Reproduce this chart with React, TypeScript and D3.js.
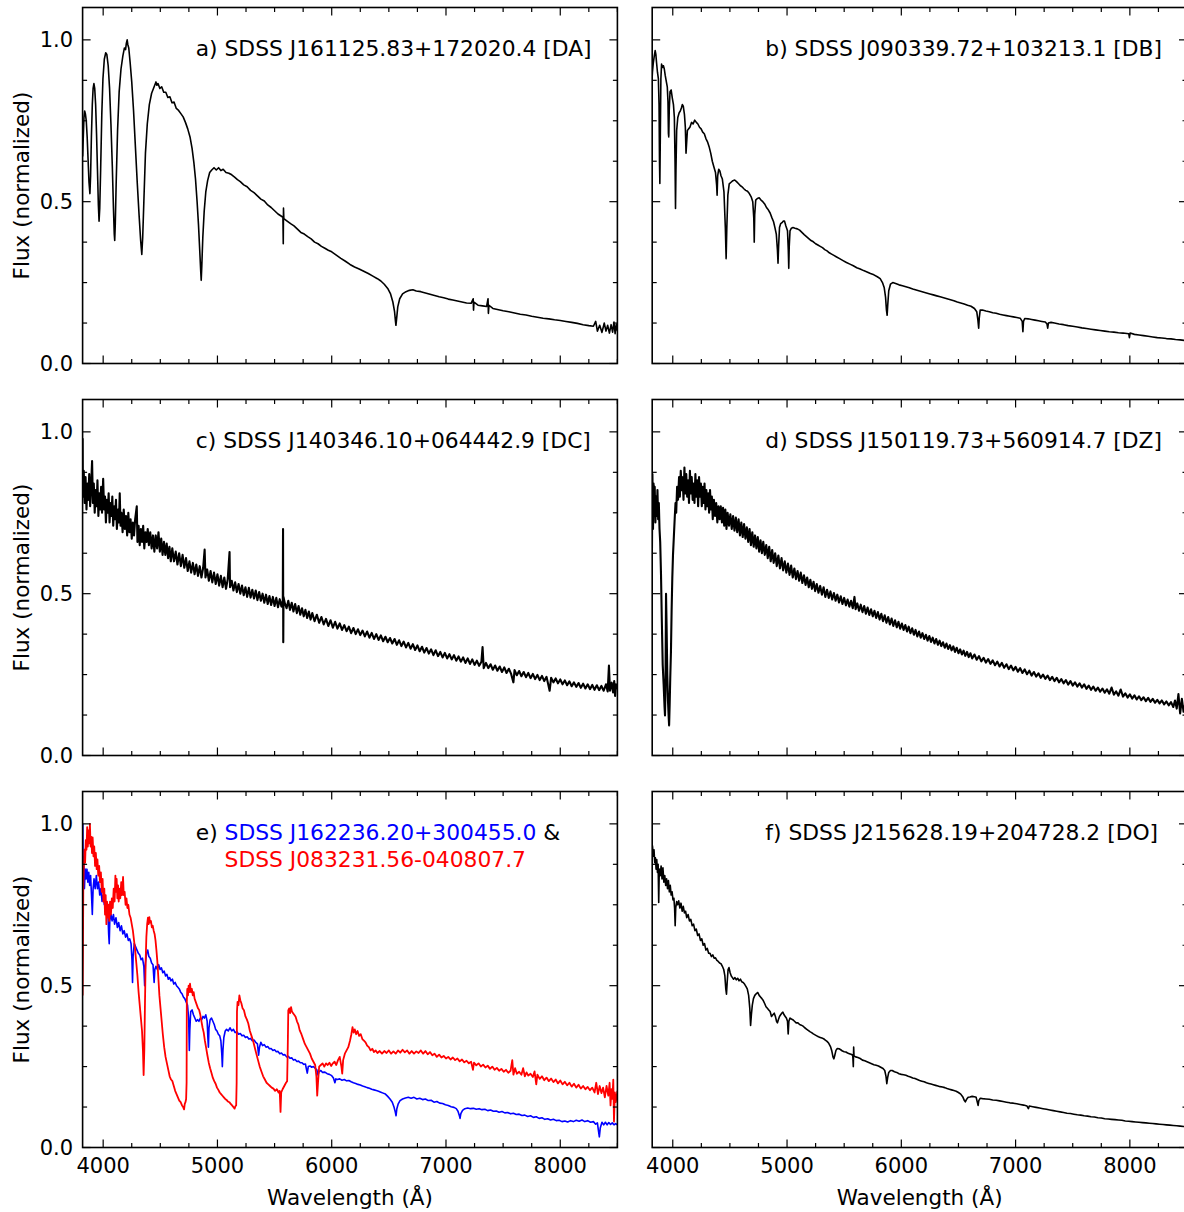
import * as d3 from "d3";
import { useEffect, useRef } from "react";

type Pt = [number, number];

// a) DA white dwarf
const specA: Pt[] = [
  [3820,0.64],[3826,0.70],[3832,0.76],[3838,0.78],[3845,0.77],[3852,0.75],[3860,0.70],[3868,0.63],[3876,0.56],[3884,0.525],[3890,0.58],[3897,0.70],[3905,0.80],[3912,0.85],[3919,0.865],[3926,0.85],[3934,0.80],[3942,0.71],[3950,0.60],[3958,0.49],[3964,0.44],[3970,0.48],[3978,0.60],[3988,0.77],[3998,0.88],[4010,0.94],[4022,0.96],[4032,0.955],[4044,0.92],[4056,0.85],[4068,0.74],[4080,0.61],[4090,0.48],[4097,0.40],[4101,0.38],[4106,0.43],[4114,0.56],[4126,0.72],[4140,0.84],[4156,0.91],[4172,0.95],[4186,0.975],[4196,0.97],[4203,0.99],[4210,1.0],[4216,0.985],[4224,0.975],[4236,0.93],[4250,0.87],[4266,0.78],[4282,0.67],[4298,0.56],[4314,0.46],[4328,0.38],[4338,0.337],[4346,0.39],[4356,0.50],[4370,0.65],[4386,0.74],[4404,0.80],[4424,0.835],[4446,0.855],[4462,0.87],[4470,0.86],[4480,0.865],[4496,0.85],[4512,0.855],[4530,0.838],[4548,0.838],[4566,0.822],[4584,0.824],[4602,0.806],[4620,0.808],[4640,0.788],[4660,0.782],[4680,0.772],[4700,0.762],[4720,0.745],[4740,0.725],[4760,0.70],[4778,0.665],[4794,0.62],[4808,0.57],[4822,0.50],[4834,0.43],[4845,0.35],[4853,0.29],[4858,0.257],[4863,0.30],[4872,0.39],[4884,0.47],[4898,0.53],[4914,0.565],[4932,0.59],[4950,0.598],[4970,0.605],[4990,0.598],[5010,0.605],[5030,0.596],[5050,0.60],[5075,0.59],[5100,0.588],[5125,0.583],[5150,0.576],[5175,0.568],[5200,0.562],[5230,0.552],[5260,0.546],[5290,0.535],[5320,0.528],[5350,0.518],[5380,0.508],[5410,0.502],[5440,0.49],[5470,0.482],[5500,0.472],[5530,0.462],[5560,0.455],[5573,0.452],[5576,0.37],[5578,0.48],[5581,0.448],[5610,0.44],[5640,0.432],[5670,0.425],[5700,0.415],[5730,0.405],[5760,0.40],[5790,0.392],[5820,0.385],[5850,0.375],[5880,0.37],[5910,0.362],[5940,0.356],[5970,0.35],[6000,0.345],[6040,0.335],[6080,0.325],[6120,0.316],[6160,0.306],[6200,0.298],[6240,0.292],[6280,0.285],[6320,0.278],[6360,0.27],[6400,0.262],[6430,0.255],[6460,0.245],[6490,0.232],[6515,0.215],[6535,0.19],[6550,0.16],[6558,0.13],[6562,0.118],[6567,0.135],[6578,0.175],[6595,0.20],[6620,0.215],[6650,0.222],[6680,0.226],[6710,0.228],[6740,0.224],[6780,0.222],[6820,0.218],[6860,0.214],[6900,0.21],[6940,0.206],[6980,0.203],[7020,0.199],[7060,0.196],[7100,0.193],[7140,0.19],[7180,0.187],[7220,0.186],[7238,0.20],[7241,0.165],[7245,0.19],[7280,0.18],[7320,0.178],[7355,0.176],[7368,0.20],[7371,0.155],[7376,0.18],[7410,0.17],[7450,0.167],[7500,0.163],[7550,0.16],[7600,0.156],[7650,0.152],[7700,0.15],[7750,0.146],[7800,0.143],[7850,0.14],[7900,0.138],[7950,0.135],[8000,0.133],[8050,0.13],[8100,0.127],[8150,0.124],[8200,0.12],[8250,0.117],[8290,0.115],[8310,0.13],[8325,0.10],[8345,0.118],[8365,0.096],[8385,0.125],[8400,0.10],[8415,0.118],[8430,0.094],[8445,0.12],[8458,0.097],[8470,0.128],[8480,0.092],[8490,0.122],[8500,0.10],
];

// b) DB white dwarf
const specB: Pt[] = [
  [3816,0.86],[3822,0.90],[3830,0.93],[3838,0.95],[3846,0.967],[3852,0.955],[3858,0.93],[3866,0.90],[3874,0.88],[3880,0.80],[3884,0.62],[3887,0.556],[3891,0.70],[3896,0.88],[3902,0.925],[3910,0.915],[3918,0.92],[3926,0.91],[3934,0.89],[3944,0.87],[3952,0.855],[3958,0.81],[3962,0.71],[3965,0.70],[3969,0.78],[3976,0.84],[3986,0.845],[3996,0.82],[4006,0.80],[4014,0.76],[4020,0.62],[4024,0.479],[4028,0.60],[4034,0.72],[4044,0.76],[4056,0.775],[4066,0.78],[4076,0.79],[4084,0.80],[4092,0.795],[4102,0.77],[4110,0.73],[4116,0.65],[4121,0.68],[4128,0.72],[4138,0.725],[4150,0.73],[4164,0.745],[4178,0.74],[4192,0.752],[4206,0.745],[4220,0.74],[4234,0.73],[4248,0.725],[4262,0.715],[4276,0.71],[4290,0.695],[4304,0.685],[4318,0.67],[4332,0.65],[4346,0.625],[4360,0.607],[4374,0.59],[4384,0.55],[4388,0.52],[4393,0.58],[4402,0.60],[4412,0.595],[4422,0.58],[4434,0.57],[4448,0.53],[4460,0.42],[4467,0.324],[4473,0.42],[4482,0.52],[4494,0.555],[4510,0.56],[4526,0.565],[4542,0.567],[4558,0.562],[4574,0.556],[4590,0.55],[4606,0.546],[4622,0.54],[4638,0.535],[4654,0.532],[4670,0.525],[4686,0.515],[4700,0.50],[4709,0.45],[4713,0.375],[4717,0.46],[4726,0.505],[4740,0.51],[4756,0.512],[4772,0.505],[4788,0.50],[4804,0.493],[4820,0.482],[4836,0.475],[4852,0.465],[4868,0.45],[4882,0.438],[4894,0.42],[4906,0.40],[4916,0.35],[4921,0.31],[4926,0.36],[4934,0.42],[4944,0.432],[4956,0.435],[4968,0.44],[4978,0.44],[4990,0.425],[5004,0.41],[5011,0.35],[5015,0.294],[5019,0.36],[5026,0.41],[5038,0.418],[5052,0.42],[5070,0.418],[5090,0.416],[5110,0.412],[5130,0.405],[5150,0.398],[5170,0.392],[5190,0.386],[5210,0.38],[5230,0.376],[5250,0.37],[5270,0.366],[5290,0.362],[5310,0.358],[5330,0.352],[5350,0.348],[5370,0.342],[5390,0.338],[5410,0.334],[5430,0.33],[5460,0.324],[5490,0.318],[5520,0.312],[5550,0.307],[5580,0.302],[5610,0.296],[5640,0.292],[5670,0.287],[5700,0.283],[5730,0.278],[5760,0.274],[5790,0.268],[5815,0.262],[5835,0.25],[5850,0.235],[5862,0.205],[5870,0.165],[5876,0.149],[5881,0.18],[5890,0.225],[5905,0.245],[5925,0.25],[5950,0.247],[5980,0.243],[6010,0.24],[6040,0.237],[6070,0.234],[6100,0.23],[6130,0.227],[6160,0.224],[6190,0.221],[6220,0.218],[6250,0.215],[6280,0.212],[6310,0.209],[6340,0.206],[6370,0.203],[6400,0.20],[6430,0.197],[6460,0.194],[6490,0.19],[6520,0.187],[6550,0.184],[6580,0.18],[6610,0.177],[6640,0.17],[6660,0.16],[6670,0.135],[6677,0.109],[6682,0.14],[6690,0.165],[6710,0.165],[6740,0.162],[6770,0.16],[6800,0.157],[6830,0.155],[6860,0.152],[6890,0.15],[6920,0.148],[6950,0.146],[6980,0.144],[7010,0.142],[7040,0.14],[7058,0.13],[7064,0.098],[7069,0.13],[7080,0.139],[7110,0.138],[7140,0.136],[7170,0.134],[7200,0.132],[7230,0.13],[7260,0.128],[7275,0.122],[7281,0.109],[7287,0.125],[7310,0.127],[7340,0.125],[7380,0.122],[7420,0.12],[7460,0.117],[7500,0.115],[7540,0.113],[7580,0.11],[7620,0.108],[7660,0.106],[7700,0.104],[7740,0.102],[7780,0.10],[7820,0.098],[7860,0.097],[7900,0.095],[7940,0.094],[7990,0.092],[7996,0.08],[8002,0.094],[8040,0.09],[8080,0.088],[8120,0.086],[8160,0.084],[8200,0.082],[8240,0.08],[8280,0.079],[8320,0.077],[8360,0.076],[8400,0.074],[8440,0.073],[8480,0.071],[8500,0.07],
];

// c) DC white dwarf
const specC: Pt[] = [
  [3820,0.98],[3822,0.80],[3830,0.88],[3838,0.78],[3846,0.86],[3854,0.76],[3862,0.84],[3870,0.79],[3878,0.87],[3886,0.77],[3894,0.83],[3903,0.91],[3910,0.78],[3918,0.84],[3926,0.75],[3934,0.82],[3942,0.77],[3950,0.85],[3958,0.74],[3966,0.81],[3974,0.76],[3982,0.83],[3990,0.75],[4000,0.855],[4008,0.76],[4016,0.80],[4024,0.72],[4032,0.79],[4040,0.75],[4048,0.81],[4056,0.72],[4064,0.78],[4072,0.74],[4080,0.80],[4088,0.71],[4096,0.77],[4104,0.73],[4112,0.79],[4120,0.70],[4130,0.76],[4138,0.72],[4145,0.81],[4152,0.71],[4160,0.75],[4170,0.69],[4180,0.76],[4190,0.70],[4200,0.74],[4210,0.68],[4220,0.75],[4230,0.69],[4240,0.73],[4250,0.67],[4260,0.72],[4270,0.68],[4280,0.73],[4294,0.77],[4300,0.66],[4310,0.71],[4320,0.65],[4330,0.70],[4340,0.66],[4350,0.71],[4360,0.64],[4370,0.69],[4380,0.66],[4390,0.70],[4400,0.65],[4412,0.69],[4424,0.64],[4436,0.68],[4448,0.63],[4460,0.68],[4472,0.64],[4484,0.69],[4496,0.63],[4508,0.67],[4520,0.62],[4532,0.66],[4544,0.62],[4556,0.655],[4568,0.61],[4580,0.645],[4592,0.60],[4605,0.64],[4620,0.60],[4635,0.63],[4650,0.59],[4665,0.625],[4680,0.585],[4695,0.62],[4710,0.58],[4725,0.61],[4740,0.57],[4755,0.60],[4770,0.565],[4785,0.595],[4800,0.56],[4815,0.59],[4830,0.555],[4845,0.585],[4860,0.55],[4875,0.58],[4888,0.636],[4895,0.55],[4910,0.575],[4925,0.54],[4940,0.57],[4955,0.535],[4970,0.565],[4985,0.53],[5000,0.56],[5015,0.525],[5030,0.555],[5045,0.52],[5060,0.55],[5075,0.515],[5090,0.545],[5106,0.629],[5110,0.52],[5125,0.54],[5140,0.51],[5155,0.535],[5170,0.505],[5185,0.53],[5200,0.50],[5215,0.525],[5230,0.495],[5245,0.52],[5260,0.49],[5275,0.518],[5290,0.488],[5305,0.512],[5320,0.485],[5335,0.51],[5350,0.48],[5365,0.505],[5380,0.478],[5395,0.50],[5410,0.472],[5425,0.497],[5440,0.468],[5455,0.493],[5470,0.465],[5485,0.49],[5500,0.462],[5515,0.487],[5530,0.458],[5545,0.483],[5560,0.46],[5572,0.48],[5574,0.70],[5576,0.35],[5578,0.49],[5590,0.47],[5605,0.455],[5620,0.478],[5635,0.45],[5650,0.472],[5665,0.445],[5680,0.468],[5695,0.44],[5710,0.462],[5725,0.435],[5740,0.455],[5755,0.43],[5770,0.45],[5785,0.425],[5800,0.445],[5815,0.42],[5830,0.44],[5850,0.415],[5870,0.435],[5890,0.41],[5910,0.428],[5930,0.405],[5950,0.422],[5970,0.40],[5990,0.418],[6010,0.395],[6030,0.413],[6050,0.392],[6070,0.408],[6090,0.388],[6110,0.403],[6130,0.384],[6150,0.398],[6170,0.378],[6190,0.394],[6210,0.375],[6230,0.39],[6250,0.372],[6270,0.386],[6290,0.368],[6310,0.383],[6330,0.364],[6350,0.379],[6370,0.36],[6390,0.375],[6410,0.357],[6430,0.371],[6450,0.353],[6470,0.367],[6490,0.35],[6510,0.363],[6530,0.346],[6550,0.36],[6570,0.342],[6590,0.356],[6610,0.338],[6630,0.352],[6650,0.334],[6670,0.348],[6690,0.33],[6710,0.344],[6730,0.326],[6750,0.34],[6770,0.322],[6790,0.336],[6810,0.318],[6830,0.332],[6850,0.315],[6870,0.328],[6890,0.31],[6910,0.325],[6930,0.307],[6950,0.32],[6970,0.303],[6990,0.317],[7010,0.30],[7030,0.313],[7050,0.297],[7070,0.31],[7090,0.293],[7110,0.306],[7130,0.29],[7150,0.303],[7170,0.286],[7190,0.30],[7210,0.283],[7230,0.297],[7250,0.28],[7270,0.293],[7290,0.277],[7310,0.29],[7320,0.335],[7330,0.27],[7350,0.286],[7370,0.27],[7390,0.282],[7410,0.265],[7430,0.278],[7450,0.262],[7470,0.275],[7490,0.258],[7510,0.272],[7530,0.255],[7550,0.268],[7570,0.252],[7590,0.226],[7600,0.264],[7620,0.248],[7640,0.261],[7660,0.245],[7680,0.258],[7700,0.242],[7720,0.255],[7740,0.239],[7760,0.252],[7780,0.236],[7800,0.249],[7820,0.233],[7840,0.246],[7860,0.23],[7880,0.243],[7907,0.20],[7920,0.24],[7940,0.226],[7960,0.238],[7980,0.223],[8000,0.235],[8020,0.22],[8040,0.232],[8060,0.217],[8080,0.229],[8100,0.214],[8120,0.226],[8140,0.212],[8160,0.224],[8180,0.209],[8200,0.222],[8220,0.207],[8240,0.22],[8260,0.205],[8280,0.218],[8300,0.203],[8320,0.217],[8340,0.202],[8360,0.215],[8380,0.20],[8400,0.22],[8415,0.198],[8426,0.278],[8435,0.20],[8450,0.225],[8462,0.195],[8472,0.23],[8480,0.184],[8488,0.22],[8500,0.205],
];

// d) DZ white dwarf
const specD: Pt[] = [
  [3818,0.63],[3822,0.87],[3827,0.70],[3832,0.84],[3837,0.74],[3842,0.83],[3848,0.72],[3854,0.80],[3860,0.74],[3866,0.82],[3872,0.73],[3878,0.78],[3884,0.70],[3890,0.66],[3897,0.56],[3904,0.42],[3912,0.28],[3920,0.22],[3928,0.15],[3932,0.124],[3936,0.20],[3941,0.50],[3946,0.40],[3952,0.25],[3958,0.17],[3964,0.12],[3968,0.093],[3973,0.16],[3978,0.24],[3984,0.32],[3990,0.45],[3996,0.55],[4002,0.62],[4010,0.68],[4018,0.74],[4024,0.78],[4030,0.75],[4038,0.83],[4046,0.79],[4055,0.86],[4062,0.80],[4070,0.88],[4078,0.82],[4086,0.86],[4094,0.79],[4102,0.89],[4110,0.81],[4118,0.87],[4126,0.80],[4134,0.85],[4142,0.78],[4150,0.88],[4158,0.81],[4166,0.86],[4174,0.79],[4182,0.84],[4190,0.78],[4198,0.87],[4206,0.80],[4214,0.85],[4222,0.77],[4230,0.86],[4238,0.80],[4246,0.84],[4254,0.77],[4262,0.83],[4270,0.78],[4278,0.84],[4286,0.76],[4294,0.82],[4302,0.77],[4310,0.81],[4318,0.75],[4326,0.82],[4334,0.76],[4342,0.80],[4350,0.73],[4360,0.79],[4370,0.74],[4380,0.78],[4390,0.72],[4400,0.77],[4410,0.73],[4420,0.77],[4430,0.72],[4440,0.765],[4450,0.71],[4460,0.76],[4470,0.70],[4480,0.75],[4492,0.71],[4504,0.745],[4516,0.70],[4528,0.74],[4540,0.695],[4552,0.735],[4564,0.69],[4576,0.73],[4588,0.68],[4600,0.72],[4612,0.675],[4624,0.715],[4636,0.67],[4648,0.705],[4660,0.66],[4672,0.70],[4684,0.65],[4696,0.69],[4708,0.645],[4720,0.68],[4732,0.64],[4744,0.675],[4756,0.63],[4768,0.665],[4780,0.625],[4792,0.66],[4805,0.62],[4818,0.65],[4831,0.61],[4844,0.645],[4857,0.60],[4870,0.635],[4883,0.595],[4896,0.625],[4910,0.585],[4924,0.618],[4938,0.578],[4952,0.61],[4966,0.572],[4980,0.60],[4994,0.565],[5008,0.593],[5022,0.558],[5036,0.587],[5050,0.55],[5064,0.578],[5078,0.545],[5092,0.57],[5106,0.54],[5120,0.565],[5134,0.533],[5148,0.557],[5162,0.527],[5176,0.55],[5190,0.52],[5204,0.543],[5218,0.515],[5232,0.537],[5246,0.508],[5260,0.53],[5275,0.503],[5290,0.524],[5305,0.497],[5320,0.52],[5335,0.49],[5350,0.512],[5365,0.487],[5380,0.507],[5395,0.482],[5410,0.502],[5425,0.478],[5440,0.497],[5455,0.473],[5470,0.492],[5485,0.468],[5500,0.487],[5515,0.464],[5530,0.482],[5545,0.46],[5560,0.478],[5575,0.455],[5590,0.49],[5600,0.452],[5615,0.47],[5630,0.447],[5645,0.466],[5660,0.443],[5675,0.462],[5690,0.438],[5705,0.457],[5720,0.434],[5735,0.452],[5750,0.43],[5765,0.447],[5780,0.425],[5795,0.443],[5810,0.42],[5825,0.438],[5840,0.415],[5855,0.433],[5870,0.41],[5885,0.428],[5900,0.405],[5915,0.423],[5930,0.40],[5945,0.418],[5960,0.396],[5975,0.413],[5990,0.392],[6005,0.408],[6020,0.388],[6035,0.403],[6050,0.383],[6065,0.398],[6080,0.378],[6095,0.393],[6110,0.373],[6125,0.388],[6140,0.368],[6155,0.383],[6170,0.364],[6185,0.378],[6200,0.36],[6215,0.373],[6230,0.355],[6245,0.369],[6260,0.351],[6275,0.364],[6290,0.346],[6305,0.36],[6320,0.342],[6335,0.355],[6350,0.338],[6365,0.35],[6380,0.333],[6395,0.346],[6410,0.329],[6425,0.341],[6440,0.325],[6455,0.337],[6470,0.32],[6485,0.333],[6500,0.316],[6515,0.328],[6530,0.312],[6545,0.324],[6560,0.308],[6575,0.32],[6590,0.304],[6605,0.316],[6620,0.30],[6640,0.312],[6660,0.296],[6680,0.307],[6700,0.291],[6720,0.302],[6740,0.287],[6760,0.298],[6780,0.283],[6800,0.294],[6820,0.279],[6840,0.29],[6860,0.275],[6880,0.286],[6900,0.271],[6920,0.282],[6940,0.267],[6960,0.278],[6980,0.263],[7000,0.274],[7020,0.259],[7040,0.27],[7060,0.255],[7080,0.266],[7100,0.251],[7120,0.262],[7140,0.247],[7160,0.258],[7180,0.244],[7200,0.254],[7220,0.24],[7240,0.25],[7260,0.237],[7280,0.247],[7300,0.233],[7320,0.243],[7340,0.23],[7360,0.24],[7380,0.226],[7400,0.236],[7420,0.223],[7440,0.233],[7460,0.219],[7480,0.23],[7500,0.216],[7520,0.226],[7540,0.213],[7560,0.223],[7580,0.21],[7600,0.22],[7620,0.206],[7640,0.216],[7660,0.203],[7680,0.213],[7700,0.20],[7720,0.21],[7740,0.197],[7760,0.207],[7780,0.194],[7800,0.204],[7820,0.191],[7840,0.21],[7860,0.188],[7880,0.198],[7900,0.185],[7920,0.204],[7940,0.182],[7960,0.192],[7980,0.179],[8000,0.189],[8020,0.176],[8040,0.186],[8060,0.173],[8080,0.183],[8100,0.171],[8120,0.18],[8140,0.168],[8160,0.178],[8180,0.166],[8200,0.175],[8220,0.163],[8240,0.172],[8260,0.161],[8280,0.17],[8300,0.158],[8320,0.167],[8340,0.155],[8360,0.165],[8380,0.15],[8395,0.17],[8410,0.145],[8425,0.19],[8440,0.13],[8455,0.175],[8470,0.135],[8485,0.16],[8500,0.14],
];

// e) blue spectrum
const specEBlue: Pt[] = [
  [3822,1.0],[3825,0.82],[3830,0.90],[3836,0.80],[3842,0.86],[3850,0.83],[3858,0.86],[3866,0.82],[3874,0.85],[3882,0.81],[3890,0.84],[3898,0.78],[3905,0.72],[3912,0.80],[3920,0.83],[3930,0.80],[3940,0.84],[3950,0.80],[3960,0.82],[3970,0.78],[3980,0.80],[3990,0.76],[4000,0.78],[4010,0.75],[4020,0.76],[4030,0.73],[4040,0.74],[4048,0.66],[4053,0.63],[4058,0.70],[4068,0.72],[4078,0.70],[4090,0.72],[4100,0.69],[4112,0.71],[4124,0.68],[4136,0.695],[4148,0.67],[4160,0.685],[4172,0.66],[4184,0.67],[4196,0.65],[4208,0.66],[4220,0.64],[4232,0.645],[4244,0.63],[4252,0.58],[4257,0.51],[4262,0.59],[4272,0.63],[4284,0.62],[4296,0.61],[4308,0.60],[4320,0.595],[4332,0.58],[4344,0.585],[4356,0.56],[4363,0.50],[4370,0.57],[4380,0.60],[4390,0.61],[4400,0.59],[4412,0.585],[4424,0.57],[4436,0.565],[4446,0.51],[4452,0.55],[4462,0.56],[4474,0.55],[4486,0.565],[4498,0.55],[4510,0.555],[4522,0.54],[4534,0.545],[4546,0.53],[4558,0.535],[4570,0.52],[4582,0.525],[4594,0.515],[4606,0.52],[4618,0.505],[4630,0.51],[4642,0.50],[4654,0.495],[4666,0.49],[4678,0.48],[4690,0.475],[4702,0.465],[4714,0.46],[4726,0.45],[4738,0.44],[4748,0.40],[4754,0.30],[4758,0.36],[4766,0.42],[4778,0.425],[4790,0.41],[4802,0.40],[4814,0.39],[4826,0.395],[4838,0.39],[4850,0.40],[4862,0.395],[4874,0.405],[4886,0.40],[4898,0.41],[4910,0.39],[4916,0.34],[4921,0.31],[4926,0.37],[4936,0.395],[4948,0.40],[4960,0.39],[4972,0.38],[4984,0.365],[4996,0.36],[5008,0.35],[5020,0.345],[5030,0.33],[5038,0.29],[5043,0.25],[5048,0.30],[5056,0.34],[5068,0.36],[5080,0.365],[5095,0.36],[5110,0.37],[5125,0.36],[5140,0.365],[5155,0.355],[5170,0.358],[5185,0.35],[5200,0.352],[5215,0.345],[5230,0.347],[5245,0.34],[5260,0.342],[5275,0.335],[5290,0.337],[5305,0.33],[5320,0.332],[5335,0.325],[5350,0.32],[5360,0.285],[5368,0.31],[5380,0.325],[5395,0.315],[5410,0.318],[5425,0.31],[5440,0.312],[5455,0.305],[5470,0.306],[5485,0.30],[5500,0.302],[5515,0.296],[5530,0.297],[5545,0.29],[5560,0.292],[5575,0.286],[5590,0.287],[5605,0.28],[5620,0.282],[5635,0.276],[5650,0.277],[5665,0.27],[5680,0.272],[5695,0.266],[5710,0.267],[5725,0.262],[5740,0.262],[5755,0.257],[5770,0.258],[5780,0.24],[5786,0.23],[5795,0.25],[5810,0.252],[5825,0.248],[5840,0.25],[5855,0.245],[5870,0.24],[5880,0.224],[5890,0.235],[5905,0.238],[5920,0.232],[5940,0.233],[5960,0.228],[5980,0.226],[6000,0.222],[6015,0.215],[6028,0.20],[6036,0.212],[6050,0.21],[6070,0.212],[6090,0.208],[6110,0.21],[6130,0.206],[6150,0.207],[6170,0.203],[6190,0.20],[6210,0.198],[6230,0.195],[6250,0.193],[6270,0.19],[6290,0.188],[6310,0.185],[6330,0.183],[6350,0.18],[6370,0.178],[6390,0.176],[6410,0.174],[6430,0.171],[6450,0.168],[6470,0.165],[6490,0.158],[6510,0.15],[6530,0.14],[6545,0.125],[6556,0.11],[6563,0.098],[6570,0.12],[6582,0.135],[6598,0.145],[6620,0.15],[6645,0.153],[6670,0.155],[6695,0.152],[6720,0.155],[6745,0.15],[6770,0.152],[6795,0.148],[6820,0.15],[6845,0.145],[6870,0.146],[6895,0.14],[6920,0.142],[6945,0.137],[6970,0.136],[6995,0.132],[7020,0.13],[7045,0.126],[7070,0.124],[7090,0.12],[7105,0.112],[7116,0.10],[7123,0.09],[7130,0.105],[7145,0.115],[7165,0.12],[7190,0.122],[7215,0.12],[7240,0.121],[7265,0.118],[7290,0.12],[7315,0.117],[7340,0.118],[7365,0.114],[7390,0.116],[7415,0.112],[7440,0.113],[7465,0.109],[7490,0.111],[7515,0.107],[7540,0.108],[7565,0.104],[7590,0.106],[7615,0.102],[7640,0.103],[7665,0.099],[7690,0.10],[7715,0.096],[7740,0.098],[7765,0.093],[7790,0.095],[7815,0.09],[7840,0.092],[7865,0.087],[7890,0.089],[7915,0.085],[7940,0.087],[7965,0.083],[7990,0.084],[8015,0.08],[8040,0.082],[8065,0.079],[8090,0.083],[8115,0.08],[8140,0.084],[8165,0.081],[8190,0.085],[8215,0.08],[8240,0.083],[8265,0.078],[8290,0.08],[8310,0.072],[8325,0.076],[8335,0.05],[8342,0.033],[8350,0.06],[8365,0.078],[8380,0.07],[8395,0.078],[8410,0.07],[8425,0.077],[8440,0.071],[8455,0.076],[8470,0.07],[8485,0.074],[8500,0.07],
];

// e) red spectrum
const specERed: Pt[] = [
  [3820,0.47],[3823,0.60],[3826,0.80],[3830,0.86],[3836,0.92],[3842,0.88],[3848,0.95],[3854,0.92],[3860,0.99],[3866,0.93],[3872,0.98],[3878,0.94],[3884,1.0],[3890,0.93],[3896,0.96],[3902,0.91],[3908,0.958],[3915,0.90],[3922,0.93],[3929,0.87],[3936,0.91],[3943,0.86],[3950,0.89],[3957,0.84],[3965,0.87],[3972,0.82],[3980,0.85],[3988,0.79],[3995,0.83],[4002,0.76],[4010,0.80],[4016,0.72],[4022,0.78],[4028,0.69],[4034,0.76],[4040,0.71],[4046,0.75],[4053,0.70],[4060,0.76],[4068,0.72],[4076,0.77],[4084,0.74],[4092,0.80],[4100,0.76],[4107,0.84],[4112,0.79],[4118,0.83],[4124,0.77],[4130,0.81],[4136,0.76],[4142,0.80],[4150,0.77],[4158,0.82],[4166,0.78],[4174,0.836],[4180,0.78],[4188,0.79],[4196,0.75],[4204,0.77],[4212,0.74],[4220,0.75],[4230,0.72],[4240,0.71],[4250,0.69],[4260,0.67],[4270,0.64],[4280,0.61],[4290,0.57],[4300,0.53],[4310,0.48],[4320,0.44],[4330,0.40],[4340,0.36],[4348,0.30],[4354,0.224],[4360,0.30],[4366,0.45],[4372,0.58],[4378,0.65],[4385,0.69],[4392,0.71],[4398,0.69],[4404,0.712],[4410,0.695],[4418,0.70],[4426,0.68],[4434,0.685],[4442,0.67],[4450,0.66],[4458,0.64],[4466,0.61],[4474,0.575],[4482,0.53],[4492,0.47],[4502,0.43],[4512,0.39],[4522,0.35],[4534,0.31],[4546,0.28],[4558,0.26],[4570,0.24],[4582,0.22],[4594,0.21],[4606,0.205],[4618,0.19],[4630,0.175],[4642,0.165],[4654,0.155],[4666,0.145],[4678,0.14],[4690,0.13],[4700,0.125],[4708,0.118],[4714,0.135],[4720,0.14],[4726,0.15],[4730,0.20],[4732,0.45],[4736,0.49],[4742,0.47],[4748,0.50],[4754,0.48],[4760,0.506],[4768,0.48],[4776,0.49],[4784,0.47],[4792,0.48],[4800,0.46],[4810,0.45],[4820,0.44],[4830,0.43],[4840,0.425],[4850,0.41],[4860,0.39],[4870,0.37],[4880,0.355],[4890,0.33],[4900,0.31],[4912,0.285],[4924,0.262],[4936,0.245],[4948,0.23],[4960,0.215],[4972,0.205],[4984,0.197],[4996,0.185],[5008,0.178],[5020,0.17],[5032,0.165],[5044,0.16],[5056,0.155],[5068,0.15],[5080,0.147],[5092,0.142],[5104,0.14],[5116,0.135],[5128,0.13],[5140,0.125],[5150,0.12],[5158,0.128],[5164,0.13],[5168,0.20],[5171,0.42],[5176,0.45],[5184,0.44],[5192,0.47],[5200,0.455],[5210,0.445],[5220,0.43],[5232,0.424],[5245,0.405],[5258,0.395],[5270,0.383],[5284,0.36],[5298,0.345],[5312,0.33],[5326,0.31],[5340,0.29],[5355,0.27],[5370,0.25],[5385,0.235],[5400,0.22],[5415,0.21],[5430,0.20],[5445,0.195],[5460,0.19],[5475,0.185],[5490,0.182],[5505,0.175],[5520,0.18],[5535,0.17],[5545,0.175],[5552,0.11],[5558,0.17],[5570,0.18],[5585,0.19],[5600,0.20],[5610,0.205],[5615,0.30],[5620,0.424],[5628,0.43],[5636,0.415],[5644,0.434],[5652,0.42],[5662,0.415],[5672,0.41],[5684,0.404],[5696,0.39],[5708,0.38],[5720,0.362],[5735,0.35],[5750,0.335],[5765,0.32],[5780,0.31],[5795,0.30],[5810,0.29],[5825,0.275],[5840,0.265],[5855,0.255],[5866,0.22],[5873,0.16],[5880,0.20],[5890,0.25],[5905,0.255],[5920,0.26],[5935,0.25],[5950,0.26],[5965,0.255],[5980,0.262],[5995,0.252],[6010,0.26],[6025,0.265],[6040,0.255],[6055,0.27],[6070,0.28],[6085,0.25],[6092,0.228],[6100,0.27],[6115,0.29],[6130,0.30],[6145,0.31],[6160,0.33],[6172,0.35],[6182,0.372],[6192,0.355],[6202,0.365],[6214,0.35],[6226,0.36],[6240,0.345],[6254,0.35],[6268,0.335],[6282,0.33],[6296,0.325],[6310,0.315],[6325,0.31],[6340,0.30],[6355,0.305],[6370,0.295],[6385,0.30],[6400,0.292],[6420,0.298],[6440,0.29],[6460,0.298],[6480,0.292],[6500,0.30],[6520,0.29],[6540,0.297],[6560,0.29],[6580,0.30],[6600,0.293],[6620,0.302],[6640,0.294],[6660,0.30],[6680,0.29],[6700,0.298],[6720,0.29],[6740,0.297],[6760,0.292],[6780,0.30],[6800,0.29],[6820,0.298],[6840,0.288],[6860,0.295],[6880,0.285],[6900,0.29],[6920,0.28],[6940,0.287],[6960,0.278],[6980,0.283],[7000,0.275],[7020,0.28],[7040,0.272],[7060,0.278],[7080,0.27],[7100,0.275],[7120,0.266],[7140,0.272],[7160,0.263],[7180,0.268],[7200,0.26],[7220,0.265],[7236,0.24],[7245,0.262],[7265,0.254],[7285,0.26],[7305,0.25],[7325,0.256],[7345,0.247],[7365,0.253],[7385,0.243],[7405,0.25],[7425,0.24],[7445,0.246],[7465,0.237],[7485,0.243],[7505,0.234],[7525,0.24],[7545,0.231],[7565,0.237],[7580,0.27],[7590,0.225],[7605,0.245],[7620,0.228],[7640,0.234],[7660,0.225],[7675,0.245],[7690,0.22],[7705,0.232],[7720,0.222],[7740,0.228],[7760,0.218],[7775,0.235],[7790,0.195],[7800,0.225],[7820,0.212],[7840,0.22],[7860,0.208],[7880,0.216],[7900,0.205],[7920,0.213],[7940,0.202],[7960,0.21],[7980,0.198],[8000,0.207],[8020,0.195],[8040,0.203],[8060,0.192],[8080,0.20],[8100,0.188],[8120,0.197],[8140,0.185],[8160,0.194],[8180,0.182],[8200,0.19],[8220,0.18],[8240,0.187],[8260,0.177],[8280,0.185],[8300,0.17],[8315,0.20],[8330,0.165],[8345,0.19],[8360,0.168],[8375,0.185],[8390,0.155],[8405,0.19],[8420,0.16],[8432,0.20],[8440,0.13],[8448,0.18],[8456,0.15],[8464,0.21],[8470,0.08],[8478,0.17],[8486,0.14],[8500,0.175],
];

// f) DO white dwarf
const specF: Pt[] = [
  [3818,0.94],[3823,0.93],[3830,0.90],[3836,0.92],[3842,0.88],[3848,0.895],[3854,0.86],[3860,0.89],[3866,0.85],[3872,0.875],[3877,0.757],[3882,0.86],[3890,0.84],[3898,0.87],[3906,0.83],[3914,0.864],[3922,0.82],[3930,0.84],[3938,0.81],[3946,0.83],[3954,0.80],[3962,0.825],[3970,0.79],[3978,0.81],[3986,0.78],[3994,0.79],[4002,0.765],[4010,0.77],[4016,0.74],[4021,0.685],[4026,0.74],[4034,0.76],[4042,0.75],[4052,0.762],[4062,0.74],[4072,0.755],[4082,0.73],[4092,0.745],[4102,0.725],[4112,0.73],[4122,0.71],[4134,0.72],[4146,0.70],[4158,0.705],[4170,0.685],[4182,0.69],[4194,0.67],[4206,0.675],[4218,0.655],[4230,0.66],[4242,0.64],[4254,0.645],[4266,0.625],[4278,0.63],[4290,0.61],[4302,0.615],[4314,0.60],[4326,0.60],[4338,0.59],[4350,0.595],[4362,0.585],[4374,0.586],[4386,0.578],[4398,0.575],[4410,0.57],[4422,0.568],[4434,0.56],[4446,0.55],[4456,0.53],[4464,0.49],[4470,0.474],[4476,0.51],[4484,0.55],[4492,0.556],[4502,0.54],[4512,0.53],[4522,0.525],[4532,0.52],[4544,0.525],[4556,0.518],[4568,0.523],[4580,0.515],[4592,0.52],[4604,0.512],[4616,0.51],[4628,0.505],[4640,0.498],[4652,0.49],[4664,0.47],[4674,0.43],[4681,0.377],[4688,0.41],[4696,0.44],[4706,0.46],[4718,0.47],[4730,0.475],[4744,0.479],[4756,0.47],[4768,0.465],[4780,0.46],[4792,0.454],[4804,0.445],[4816,0.435],[4828,0.43],[4840,0.425],[4852,0.42],[4864,0.405],[4876,0.41],[4888,0.415],[4898,0.405],[4908,0.39],[4916,0.385],[4924,0.395],[4934,0.405],[4944,0.41],[4954,0.415],[4964,0.418],[4974,0.41],[4984,0.405],[4994,0.40],[5004,0.39],[5010,0.351],[5016,0.39],[5026,0.40],[5038,0.397],[5050,0.395],[5065,0.39],[5080,0.385],[5095,0.385],[5110,0.38],[5125,0.378],[5140,0.375],[5155,0.37],[5170,0.366],[5185,0.362],[5200,0.358],[5215,0.355],[5230,0.351],[5245,0.348],[5260,0.345],[5275,0.342],[5290,0.34],[5305,0.338],[5320,0.336],[5335,0.332],[5350,0.328],[5365,0.322],[5380,0.312],[5392,0.298],[5402,0.28],[5410,0.274],[5418,0.285],[5428,0.30],[5440,0.306],[5455,0.305],[5470,0.302],[5485,0.298],[5500,0.296],[5515,0.295],[5530,0.292],[5545,0.29],[5560,0.288],[5575,0.285],[5580,0.25],[5583,0.31],[5586,0.283],[5600,0.28],[5620,0.278],[5640,0.275],[5660,0.27],[5680,0.268],[5700,0.265],[5720,0.262],[5740,0.259],[5760,0.256],[5780,0.254],[5800,0.252],[5820,0.248],[5840,0.244],[5855,0.238],[5866,0.22],[5873,0.197],[5880,0.215],[5890,0.232],[5905,0.238],[5920,0.238],[5940,0.234],[5960,0.232],[5980,0.228],[6000,0.226],[6020,0.225],[6040,0.223],[6060,0.22],[6080,0.218],[6100,0.215],[6120,0.213],[6140,0.21],[6160,0.207],[6180,0.205],[6200,0.203],[6220,0.20],[6240,0.198],[6260,0.196],[6280,0.194],[6300,0.192],[6320,0.19],[6340,0.188],[6360,0.187],[6380,0.185],[6400,0.182],[6420,0.18],[6440,0.178],[6460,0.176],[6480,0.174],[6500,0.17],[6520,0.165],[6540,0.155],[6552,0.145],[6560,0.141],[6570,0.148],[6585,0.155],[6600,0.156],[6620,0.158],[6640,0.157],[6655,0.155],[6665,0.14],[6672,0.13],[6678,0.145],[6690,0.152],[6710,0.151],[6740,0.15],[6770,0.149],[6800,0.147],[6830,0.146],[6860,0.144],[6890,0.142],[6920,0.14],[6950,0.138],[6980,0.137],[7010,0.135],[7040,0.133],[7070,0.131],[7100,0.128],[7112,0.12],[7120,0.128],[7150,0.126],[7180,0.124],[7210,0.122],[7240,0.12],[7270,0.118],[7300,0.116],[7330,0.114],[7360,0.112],[7390,0.11],[7420,0.108],[7450,0.106],[7480,0.105],[7510,0.103],[7540,0.101],[7570,0.10],[7600,0.098],[7630,0.097],[7660,0.095],[7690,0.094],[7720,0.092],[7750,0.091],[7780,0.089],[7810,0.088],[7840,0.087],[7870,0.086],[7900,0.085],[7930,0.084],[7960,0.082],[7990,0.081],[8020,0.08],[8050,0.079],[8080,0.078],[8110,0.077],[8140,0.076],[8170,0.075],[8200,0.074],[8230,0.073],[8260,0.072],[8290,0.071],[8320,0.07],[8350,0.069],[8380,0.068],[8410,0.067],[8440,0.066],[8470,0.065],[8500,0.064],
];

const xMajor = [4000, 5000, 6000, 7000, 8000];
const yMajor = [0, 0.5, 1.0];
const yTickLabels = ["0.0", "0.5", "1.0"];

const titles: Record<string, [string, string][]> = {
  a: [["a) SDSS J161125.83+172020.4 [DA]", "#000"]],
  b: [["b) SDSS J090339.72+103213.1 [DB]", "#000"]],
  c: [["c) SDSS J140346.10+064442.9 [DC]", "#000"]],
  d: [["d) SDSS J150119.73+560914.7 [DZ]", "#000"]],
  e: [["e) ", "#000"], ["SDSS J162236.20+300455.0", "#0000ff"], [" &", "#000"]],
  f: [["f) SDSS J215628.19+204728.2 [DO]", "#000"]],
};
const titleE2 = "SDSS J083231.56-040807.7";

// noisy spectra get a heavier stroke so the noise reads as a band
const panels = [
  { id: "a", col: 0, row: 0, lines: [{ data: specA, color: "#000", sw: 1.6 }] },
  { id: "b", col: 1, row: 0, lines: [{ data: specB, color: "#000", sw: 1.6 }] },
  { id: "c", col: 0, row: 1, lines: [{ data: specC, color: "#000", sw: 2.1 }] },
  { id: "d", col: 1, row: 1, lines: [{ data: specD, color: "#000", sw: 2.1 }] },
  {
    id: "e", col: 0, row: 2,
    lines: [
      { data: specEBlue, color: "#0000ff", sw: 1.6 },
      { data: specERed, color: "#ff0000", sw: 1.8 },
    ],
  },
  { id: "f", col: 1, row: 2, lines: [{ data: specF, color: "#000", sw: 1.6 }] },
];

const W = 1184;
const H = 1212;
const colX = [82.6, 652.2];
const rowY = [7.5, 399.5, 791.5];
const PW = 534.8;
const PH = 356;
const FONT = "DejaVu Sans, sans-serif";

const App = () => {
  const ref = useRef<SVGSVGElement>(null);

  useEffect(() => {
    const svg = d3.select(ref.current);
    svg.selectAll("*").remove();

    panels.forEach((p) => {
      const x0 = colX[p.col];
      const y0 = rowY[p.row];
      const x = d3.scaleLinear().domain([3820, 8500]).range([x0, x0 + PW]);
      const y = d3.scaleLinear().domain([0, 1.1]).range([y0 + PH, y0]);

      const g = svg.append("g");
      const clipId = `clip-${p.id}`;
      g.append("clipPath")
        .attr("id", clipId)
        .append("rect")
        .attr("x", x0)
        .attr("y", y0)
        .attr("width", PW)
        .attr("height", PH);

      const line = d3
        .line<Pt>()
        .x((d) => x(d[0]))
        .y((d) => y(d[1]));

      const lg = g.append("g").attr("clip-path", `url(#${clipId})`);
      p.lines.forEach((s) => {
        lg.append("path")
          .datum(s.data)
          .attr("d", line)
          .attr("fill", "none")
          .attr("stroke", s.color)
          .attr("stroke-width", s.sw)
          .attr("stroke-linejoin", "round");
      });

      // ticks, pointing inward on all four sides
      const minorX = d3.range(4000, 8501, 250).filter((v) => v % 1000 !== 0);
      const minorY = d3.range(0.125, 1.1, 0.125).filter((v) => Math.abs(v * 2 - Math.round(v * 2)) > 1e-6);
      const tk = g.append("g").attr("stroke", "#000").attr("stroke-width", 1.2);
      const xTicks = [
        ...xMajor.map((v) => ({ v, len: 8 })),
        ...minorX.map((v) => ({ v, len: 4.5 })),
      ];
      const yTicks = [
        ...yMajor.map((v) => ({ v, len: 8 })),
        ...minorY.map((v) => ({ v, len: 4.5 })),
      ];
      xTicks.forEach((t) => {
        tk.append("line").attr("x1", x(t.v)).attr("x2", x(t.v)).attr("y1", y0 + PH).attr("y2", y0 + PH - t.len);
        tk.append("line").attr("x1", x(t.v)).attr("x2", x(t.v)).attr("y1", y0).attr("y2", y0 + t.len);
      });
      yTicks.forEach((t) => {
        tk.append("line").attr("x1", x0).attr("x2", x0 + t.len).attr("y1", y(t.v)).attr("y2", y(t.v));
        tk.append("line").attr("x1", x0 + PW).attr("x2", x0 + PW - t.len).attr("y1", y(t.v)).attr("y2", y(t.v));
      });

      g.append("rect")
        .attr("x", x0)
        .attr("y", y0)
        .attr("width", PW)
        .attr("height", PH)
        .attr("fill", "none")
        .attr("stroke", "#000")
        .attr("stroke-width", 1.6);

      // y tick labels + axis label on left column
      if (p.col === 0) {
        g.selectAll(".ylab")
          .data(yMajor)
          .join("text")
          .attr("x", x0 - 9.5)
          .attr("y", (d) => y(d))
          .attr("dy", "0.36em")
          .attr("text-anchor", "end")
          .attr("font-family", FONT)
          .attr("font-size", 21)
          .text((d, i) => yTickLabels[i]);
        g.append("text")
          .attr("transform", `translate(28.5,${y0 + PH / 2}) rotate(-90)`)
          .attr("text-anchor", "middle")
          .attr("font-family", FONT)
          .attr("font-size", 21.5)
          .text("Flux (normalized)");
      }

      // x tick labels + axis label on bottom row
      if (p.row === 2) {
        g.selectAll(".xlab")
          .data(xMajor)
          .join("text")
          .attr("x", (d) => x(d))
          .attr("y", y0 + PH + 25)
          .attr("text-anchor", "middle")
          .attr("font-family", FONT)
          .attr("font-size", 21)
          .text((d) => String(d));
        g.append("text")
          .attr("x", x0 + PW / 2)
          .attr("y", 1205)
          .attr("text-anchor", "middle")
          .attr("font-family", FONT)
          .attr("font-size", 21.5)
          .text("Wavelength (Å)");
      }

      // panel title
      const t = g.append("text")
        .attr("x", x(4810))
        .attr("y", y(0.95))
        .attr("font-family", FONT)
        .attr("font-size", 21.8)
        .style("white-space", "pre");
      titles[p.id].forEach(([txt, col]) => {
        t.append("tspan").attr("fill", col).text(txt);
      });
      if (p.id === "e") {
        const first = t.select("tspan").node() as SVGTSpanElement;
        const off = first ? first.getComputedTextLength() : 28.8;
        g.append("text")
          .attr("x", x(4810) + off)
          .attr("y", y(0.868))
          .attr("font-family", FONT)
          .attr("font-size", 21.8)
          .attr("fill", "#ff0000")
          .text(titleE2);
      }
    });
  }, []);

  return (
    <svg
      ref={ref}
      width={W}
      height={H}
      style={{ position: "absolute", left: 0, top: 0, display: "block", background: "#fff" }}
    />
  );
};

export default App;
